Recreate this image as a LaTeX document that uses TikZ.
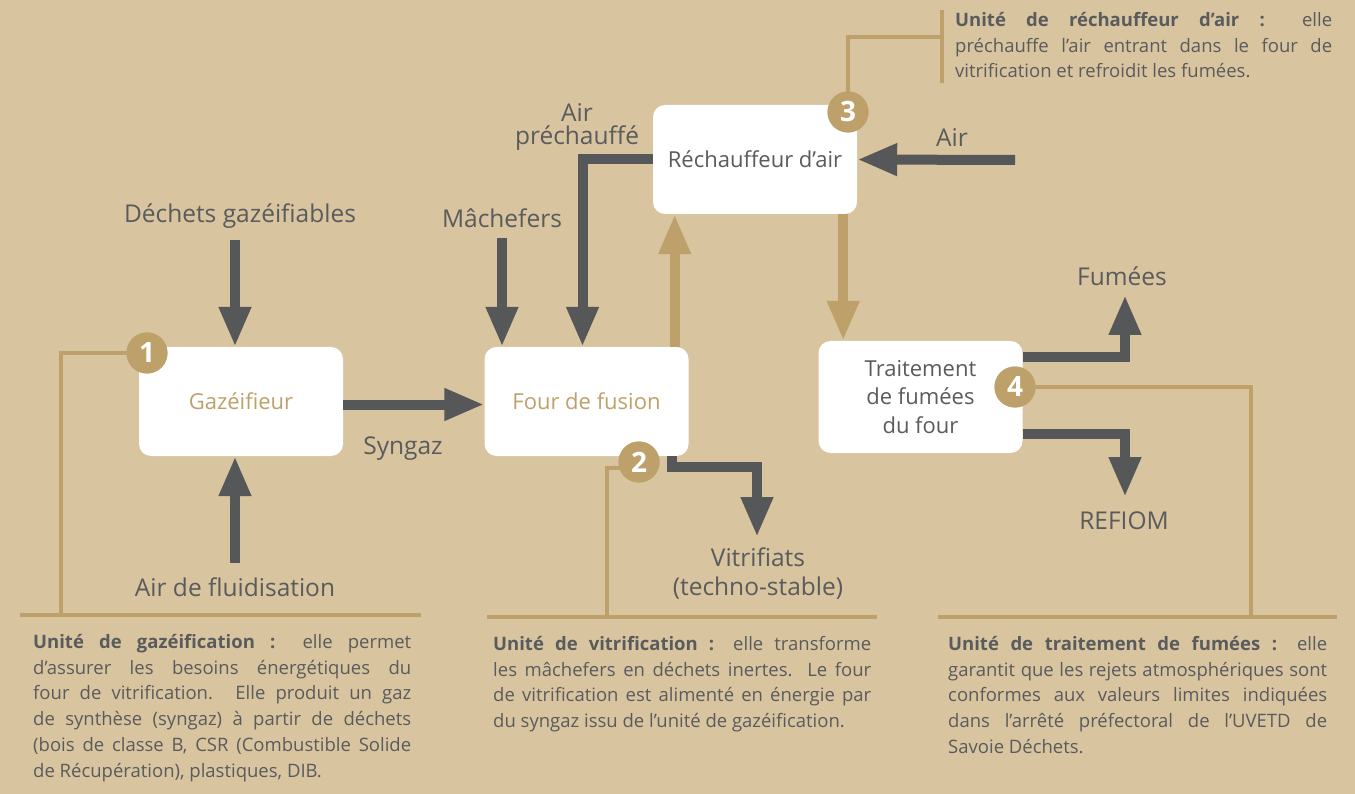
\documentclass[tikz,border=0pt]{standalone}
\usepackage{fontspec}
\setmainfont{Open Sans}
\usetikzlibrary{arrows.meta}
\definecolor{fond}{HTML}{D8C49F}
\definecolor{or}{HTML}{BEA16A}
\definecolor{ardoise}{HTML}{555759}
\definecolor{texte}{HTML}{5A5B5D}

\begin{document}
\begin{tikzpicture}[x=1pt,y=-1pt,
  unite/.style={rectangle, fill=white, rounded corners=12pt, minimum width=204pt, minimum height=109pt, inner sep=0pt, align=center, font=\fontsize{22}{28.5}\selectfont},
  flux/.style={draw=ardoise, line width=10pt, -{Triangle[length=40pt,width=30pt]}},
  chaleur/.style={flux, draw=or},
  renvoi/.style={draw=or, line width=3.5pt},
  pastille/.style={circle, fill=or, text=white, minimum size=41pt, inner sep=0pt, font=\bfseries\fontsize{28}{28}\selectfont},
  legende/.style={text=texte, inner sep=0pt, align=center, font=\fontsize{24.5}{29}\selectfont},
  bloc/.style={anchor=north west, inner sep=0pt, text width=378pt, align=justify, text=texte, font=\fontsize{18.5}{25.8}\selectfont}]
  \useasboundingbox[fill=fond] (0,0) rectangle (1355,794);

  % les quatre unites
  \node[unite, text=or] (gaz) at (241,401.5) {Gazéifieur};
  \node[unite, text=or] (four) at (586.5,401.5) {Four de fusion};
  \node[unite, text=texte] (rech) at (755,159.5) {Réchauffeur d’air};
  \node[unite, text=texte, minimum height=112pt] (trait) at (920.5,397) {Traitement\\de fumées\\du four};

  % entrees et sorties
  \node[legende] (dechets) at (240,216) {Déchets gazéifiables};
  \node[legende] (fluid) at (235,587) {Air de fluidisation};
  \node[legende] (syngaz) at (403,449) {Syngaz};
  \node[legende] (mache) at (502,218) {Mâchefers};
  \node[legende, font=\fontsize{24.5}{23}\selectfont] (airpre) at (577,127) {Air\\préchauffé};
  \node[legende] (air) at (952,138) {Air};
  \node[legende] (vitri) at (758,574) {Vitrifiats\\(techno-stable)};
  \node[legende] (fumees) at (1122,276) {Fumées};
  \node[legende] (refiom) at (1124,521) {REFIOM};

  \coordinate (dechetsbas) at (235,240);
  \coordinate (fluidhaut) at (235,563);
  \coordinate (machebas) at (502,238);
  \coordinate (airdroite) at (1015,160);
  \coordinate (montee) at ([xshift=-14pt]four.north east);
  \coordinate (descente) at ([xshift=-14pt]rech.south east);
  \coordinate (vdepart) at ([xshift=-17pt]four.south east);
  \coordinate (vcoude) at (757,467);
  \coordinate (vbout) at (757,537);
  \coordinate (fcoude) at (1125,357);
  \coordinate (fbout) at (1125,295);
  \coordinate (rcoude) at (1125,434);
  \coordinate (rbout) at (1125,497);

  \draw[flux] (dechetsbas) -- (dechetsbas |- gaz.north);
  \draw[flux] (fluidhaut) -- (fluidhaut |- gaz.south);
  \draw[flux] ([yshift=-3pt]gaz.east) -- ([yshift=-3pt]four.west);
  \draw[flux] (machebas) -- (machebas |- four.north);
  \draw[flux] (rech.west) -| ([xshift=-4pt]four.north);
  \draw[flux] (airdroite) -- (rech.east);
  \draw[chaleur] (montee) -- (montee |- rech.south);
  \draw[chaleur] (descente) -- (descente |- trait.north);
  \draw[flux] (vdepart) |- (vcoude) -- (vbout);
  \draw[flux] (trait.east |- fcoude) -- (fcoude) -- (fbout);
  \draw[flux] (trait.east |- rcoude) -- (rcoude) -- (rbout);

  % renvois vers les textes
  \coordinate (l1) at (61,615);
  \coordinate (l2) at (607,617);
  \coordinate (l3) at (942,37);
  \coordinate (l4) at (1251,617);
  \draw[renvoi] (20,615) -- (421,615);
  \draw[renvoi] (487,617) -- (877,617);
  \draw[renvoi] (942,10) -- (942,83);
  \draw[renvoi] (938,617) -- (1337,617);

  \node[pastille] (p1) at (147,353) {};
  \node[pastille] (p2) at (639,462) {};
  \node[pastille] (p3) at (848,112) {};
  \node[pastille] (p4) at (1015,387) {};
  \draw[renvoi] (p1.center) -| (l1);
  \draw[renvoi] ([yshift=-6pt]p2.center) -| (l2);
  \draw[renvoi] (p3.center) |- (l3);
  \draw[renvoi] (p4.center) -| (l4);
  \node[pastille] at (p1) {1};
  \node[pastille] at (p2) {2};
  \node[pastille] at (p3) {3};
  \node[pastille] at (p4) {4};

  % textes
  \node[bloc] (t1) at (33,634) {\textbf{Unité de gazéification :} elle permet\linebreak
    d’assurer les besoins énergétiques du\linebreak
    four de vitrification. Elle produit un gaz\linebreak
    de synthèse (syngaz) à partir de déchets\linebreak
    (bois de classe B, CSR (Combustible Solide\linebreak
    de Récupération), plastiques, DIB.};
  \node[bloc] (t2) at (493,636) {\textbf{Unité de vitrification :} elle transforme\linebreak
    les mâchefers en déchets inertes. Le four\linebreak
    de vitrification est alimenté en énergie par\linebreak
    du syngaz issu de l’unité de gazéification.};
  \node[bloc, text width=377pt] (t3) at (955,12) {\textbf{Unité de réchauffeur d’air :} elle\linebreak
    préchauffe l’air entrant dans le four de\linebreak
    vitrification et refroidit les fumées.};
  \node[bloc, text width=379pt] (t4) at (948,636) {\textbf{Unité de traitement de fumées :} elle\linebreak
    garantit que les rejets atmosphériques sont\linebreak
    conformes aux valeurs limites indiquées\linebreak
    dans l’arrêté préfectoral de l’UVETD de\linebreak
    Savoie Déchets.};
\end{tikzpicture}
\end{document}
